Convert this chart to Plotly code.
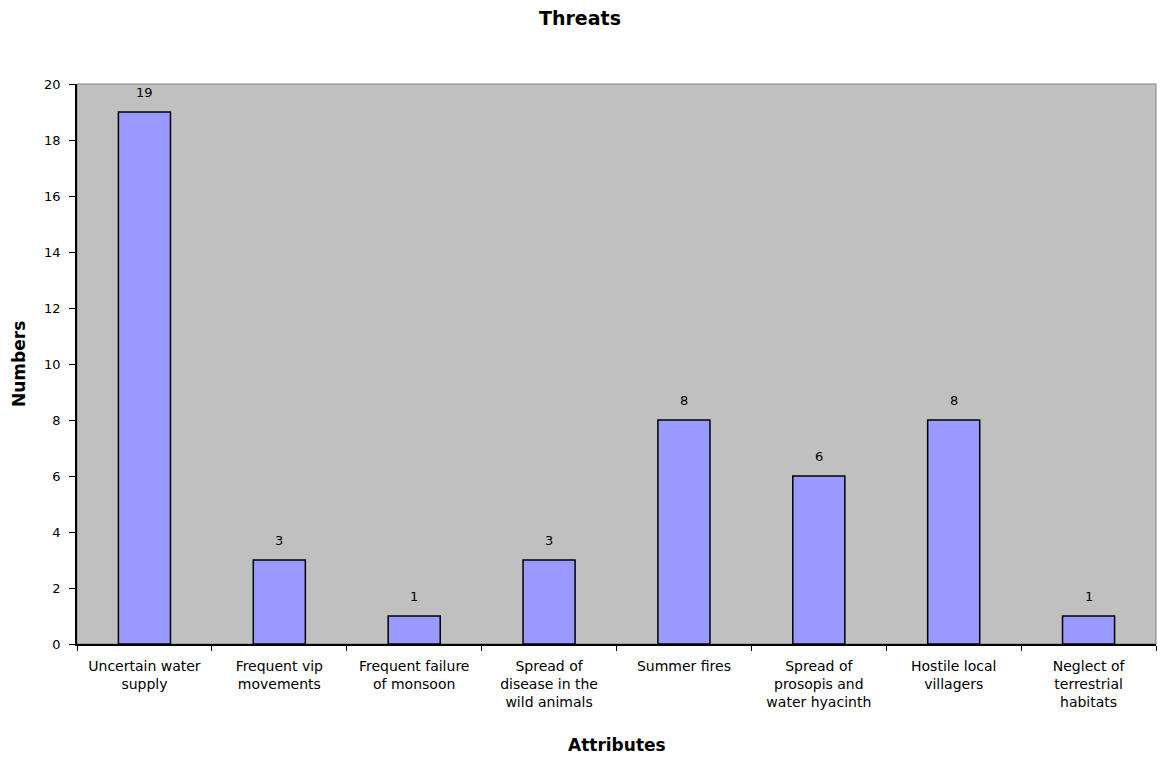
import plotly.graph_objects as go

categories = [
    "Uncertain water<br>supply",
    "Frequent vip<br>movements",
    "Frequent failure<br>of monsoon",
    "Spread of<br>disease in the<br>wild animals",
    "Summer fires",
    "Spread of<br>prosopis and<br>water hyacinth",
    "Hostile local<br>villagers",
    "Neglect of<br>terrestrial<br>habitats",
]
values = [19, 3, 1, 3, 8, 6, 8, 1]
y_ticks = [0, 2, 4, 6, 8, 10, 12, 14, 16, 18, 20]

FONT = "DejaVu Sans, Verdana, sans-serif"

fig = go.Figure(
    go.Bar(
        x=categories,
        y=values,
        marker=dict(color="#9999FF", line=dict(color="black", width=1.5)),
        width=0.386,
        hoverinfo="x+y",
    )
)

# value labels above each bar
value_labels = [
    dict(
        x=c,
        y=v,
        xref="x",
        yref="y",
        text=str(v),
        showarrow=False,
        yanchor="bottom",
        yshift=10,
        font=dict(family=FONT, size=13, color="black"),
    )
    for c, v in zip(categories, values)
]

axis_titles = [
    dict(
        x=0.5,
        y=0,
        xref="paper",
        yref="paper",
        yshift=-101,
        text="<b>Attributes</b>",
        showarrow=False,
        xanchor="center",
        yanchor="middle",
        font=dict(family=FONT, size=17, color="black"),
    ),
    dict(
        x=0,
        y=0.5,
        xref="paper",
        yref="paper",
        xshift=-58,
        text="<b>Numbers</b>",
        textangle=-90,
        showarrow=False,
        xanchor="center",
        yanchor="middle",
        font=dict(family=FONT, size=17, color="black"),
    ),
]

fig.update_layout(
    width=1160,
    height=759,
    margin=dict(l=77, r=4, t=84, b=115),
    paper_bgcolor="white",
    plot_bgcolor="#C0C0C0",
    font=dict(family=FONT, size=13, color="black"),
    showlegend=False,
    title=dict(
        text="<b>Threats</b>",
        x=0.5,
        xanchor="center",
        y=1 - 18 / 759,
        yanchor="middle",
        font=dict(family=FONT, size=19, color="black"),
    ),
    xaxis=dict(
        showline=True,
        linecolor="black",
        linewidth=1.5,
        ticks="outside",
        tickson="boundaries",
        ticklen=5,
        tickcolor="black",
        tickfont=dict(family=FONT, size=14),
        ticklabelstandoff=8,
        showgrid=False,
        fixedrange=True,
    ),
    yaxis=dict(
        range=[0, 20],
        tickvals=y_ticks,
        showline=True,
        linecolor="black",
        linewidth=1.5,
        ticks="outside",
        ticklen=6,
        tickcolor="black",
        tickfont=dict(family=FONT, size=13),
        ticklabelstandoff=6,
        showgrid=False,
        zeroline=False,
        fixedrange=True,
    ),
    annotations=value_labels + axis_titles,
    shapes=[
        dict(
            type="rect",
            xref="paper",
            yref="paper",
            x0=0,
            x1=1,
            y0=0,
            y1=1,
            line=dict(color="#808080", width=1),
            layer="below",
        )
    ],
)

fig.write_html("out.html")
